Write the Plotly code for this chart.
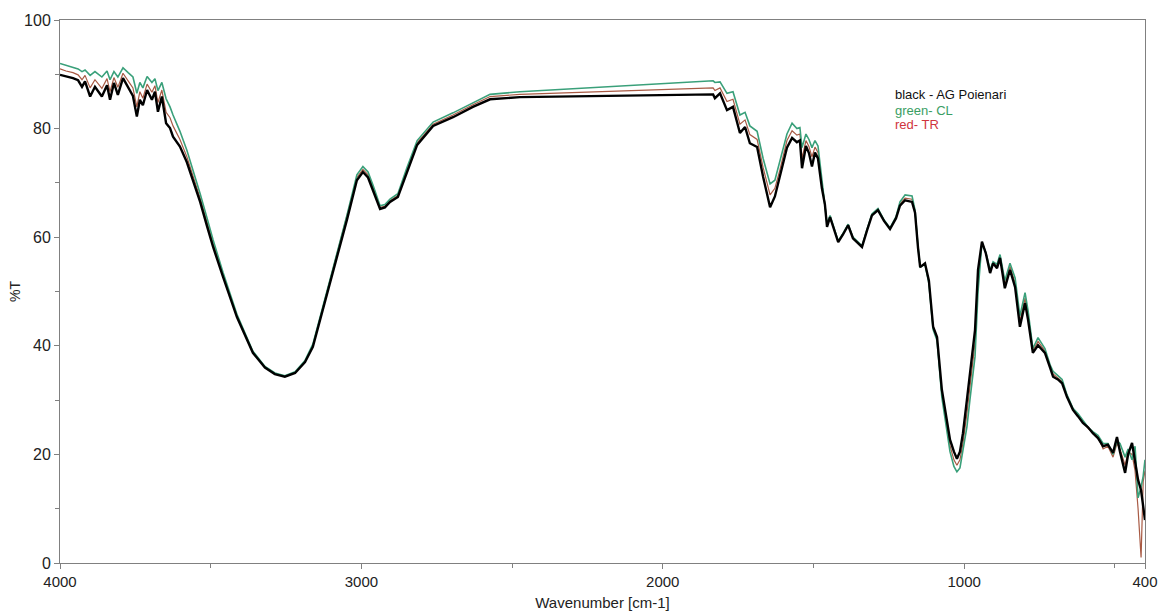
import plotly.graph_objects as go

wavenumber = [4000, 3980, 3957, 3940, 3927, 3917, 3900, 3884, 3861, 3844, 3834, 3821, 3808, 3791, 3774, 3758,
              3745, 3735, 3725, 3711, 3695, 3685, 3675, 3662, 3648, 3635, 3625, 3602, 3579, 3559, 3535, 3512,
              3492, 3459, 3413, 3360, 3320, 3287, 3254, 3220, 3187, 3161, 3137, 3094, 3048, 3015, 2995, 2978,
              2961, 2938, 2922, 2905, 2879, 2849, 2815, 2762, 2696, 2630, 2573, 2474, 1833, 1827, 1810, 1787,
              1767, 1744, 1727, 1711, 1687, 1667, 1644, 1628, 1611, 1588, 1571, 1555, 1545, 1538, 1525, 1515,
              1505, 1495, 1485, 1472, 1462, 1455, 1445, 1418, 1402, 1385, 1369, 1339, 1322, 1306, 1286, 1266,
              1246, 1226, 1213, 1196, 1173, 1163, 1153, 1146, 1130, 1117, 1103, 1090, 1074, 1047, 1034, 1024,
              1014, 1004, 991, 981, 964, 954, 941, 928, 914, 904, 891, 881, 865, 848, 831, 815,
              798, 788, 772, 755, 732, 715, 705, 689, 675, 659, 639, 622, 606, 589, 573, 556,
              539, 523, 506, 493, 483, 466, 456, 443, 433, 423, 413, 406, 400]

black_ag_poienari = [89.9, 89.6, 89.3, 88.9, 87.7, 88.7, 85.9, 87.7, 85.9, 88.0, 85.3, 88.4, 86.2, 89.3, 87.7, 86.0,
                     82.2, 85.3, 84.3, 87.1, 85.3, 86.8, 83.1, 85.9, 81.0, 80.1, 78.5, 76.7, 73.8, 70.5, 66.5, 62.0,
                     58.2, 52.7, 45.3, 38.7, 36.0, 34.8, 34.3, 35.0, 37.0, 39.8, 44.8, 53.4, 63.2, 70.5, 72.0, 71.0,
                     68.5, 65.2, 65.5, 66.5, 67.4, 72.0, 77.0, 80.5, 82.1, 84.0, 85.4, 85.8, 86.3, 85.6, 86.5, 83.4,
                     84.0, 79.2, 80.3, 77.3, 76.6, 71.1, 65.5, 67.5, 71.1, 76.5, 78.3, 77.5, 77.8, 72.7, 76.8, 75.5,
                     73.0, 75.6, 74.5, 69.0, 66.0, 61.9, 63.7, 59.1, 60.5, 62.2, 59.8, 58.2, 61.3, 64.0, 65.0, 63.0,
                     61.5, 63.5, 65.8, 66.8, 66.5, 64.5, 58.0, 54.5, 55.2, 52.0, 43.5, 41.6, 31.9, 22.7, 20.5, 19.2,
                     20.5, 23.9, 30.0, 35.0, 42.9, 54.0, 59.2, 57.0, 53.4, 55.2, 54.3, 56.2, 50.6, 54.0, 50.8, 43.5,
                     47.9, 44.8, 38.7, 40.1, 38.7, 36.0, 34.3, 33.8, 33.1, 30.6, 28.2, 27.0, 25.8, 25.0, 23.9, 23.0,
                     21.5, 21.8, 20.3, 23.2, 20.5, 16.6, 20.0, 22.1, 18.4, 15.3, 13.4, 10.0, 7.9]

green_cl = [92.0, 91.7, 91.3, 91.0, 90.5, 90.8, 89.8, 90.5, 89.5, 90.6, 89.0, 90.5, 89.5, 91.2, 90.3, 89.5,
            86.5, 88.5, 87.5, 89.6, 88.5, 89.2, 87.0, 88.5, 85.5, 84.0, 82.5, 79.5, 76.0, 72.5, 68.0, 63.5,
            59.5, 53.5, 45.8, 39.0, 36.2, 35.0, 34.5, 35.2, 37.3, 40.3, 45.5, 54.3, 64.0, 71.5, 73.0, 72.0,
            69.5, 65.8, 66.0, 67.0, 68.0, 72.8, 77.8, 81.2, 82.9, 84.8, 86.3, 86.8, 88.8, 88.5, 88.6, 86.5,
            86.8, 82.5, 83.0, 80.5, 79.5, 74.5, 69.8, 70.5, 74.0, 79.0, 81.0, 80.0, 80.2, 76.5, 79.0, 78.0,
            76.5, 77.8, 76.8, 70.5, 66.5, 62.5, 64.0, 59.3, 60.7, 62.4, 60.0, 58.4, 61.5, 64.3, 65.3, 63.2,
            61.7, 63.8, 66.5, 67.8, 67.6, 65.0, 58.2, 54.5, 55.0, 51.5, 43.0, 41.0, 30.5, 20.5, 17.8, 16.8,
            17.5, 20.5, 25.0, 30.0, 38.0, 50.0, 59.0, 57.2, 54.0, 55.5, 55.0, 56.8, 52.0, 55.2, 52.5, 45.5,
            49.8, 46.5, 39.5, 41.5, 39.5, 36.5, 35.3, 34.5, 33.8, 31.0, 28.5, 27.5, 26.2, 25.0, 24.2, 23.5,
            22.0, 22.0, 20.0, 22.5, 22.0, 19.5, 21.0, 19.0, 21.5, 12.0, 14.0, 16.0, 19.0]

red_tr = [91.0, 90.6, 90.3, 89.9, 89.0, 89.8, 87.5, 89.0, 87.4, 89.2, 86.8, 89.4, 87.6, 90.2, 88.8, 87.5,
          84.0, 86.8, 85.6, 88.2, 86.7, 87.9, 84.8, 87.1, 83.0, 82.0, 80.5, 78.0, 74.8, 71.4, 67.2, 62.7,
          58.8, 53.1, 45.5, 38.8, 36.1, 34.9, 34.4, 35.1, 37.1, 40.0, 45.1, 53.8, 63.6, 71.0, 72.5, 71.5,
          69.0, 65.5, 65.7, 66.7, 67.7, 72.4, 77.4, 80.8, 82.5, 84.4, 85.9, 86.3, 87.5, 87.0, 87.5, 85.0,
          85.4, 80.8, 81.6, 78.9, 78.0, 72.8, 67.8, 69.0, 72.5, 77.8, 79.6, 78.8, 79.0, 74.5, 77.8, 76.7,
          74.8, 76.6, 75.6, 69.7, 66.2, 62.2, 63.8, 59.2, 60.6, 62.3, 59.9, 58.3, 61.4, 64.1, 65.1, 63.1,
          61.6, 63.6, 66.1, 67.2, 67.0, 64.8, 58.1, 54.5, 55.1, 51.8, 43.2, 41.3, 31.2, 21.6, 19.0, 18.0,
          19.0, 22.0, 27.5, 32.5, 40.5, 52.0, 59.1, 57.1, 53.7, 55.3, 54.6, 56.5, 51.2, 54.6, 51.6, 44.5,
          48.8, 45.6, 39.1, 40.8, 39.1, 36.2, 34.8, 34.1, 33.4, 30.8, 28.3, 27.2, 26.0, 24.8, 24.0, 23.2,
          21.0, 21.5, 19.5, 22.0, 21.0, 18.0, 20.5, 20.0, 17.0, 10.0, 1.0, 15.0, 17.0]

x_ticks = [4000, 3000, 2000, 1000, 400]
x_minor = [3500, 2500, 1500, 500]
legend_lines = ["black - AG Poienari", "green- CL", "red- TR"]
legend_colors = ["#111111", "#3a9e63", "#d0343c"]

fig = go.Figure()
fig.add_trace(go.Scatter(x=wavenumber, y=red_tr, mode="lines", line=dict(color="#a85a44", width=1.2),
                         showlegend=False))
fig.add_trace(go.Scatter(x=wavenumber, y=green_cl, mode="lines", line=dict(color="#3aa07a", width=1.6),
                         showlegend=False))
fig.add_trace(go.Scatter(x=wavenumber, y=black_ag_poienari, mode="lines", line=dict(color="#000000", width=2.4),
                         showlegend=False))

ann_y = [86.2, 83.4, 80.7]
for txt, col, yy in zip(legend_lines, legend_colors, ann_y):
    fig.add_annotation(x=1235, y=yy, xref="x", yref="y", text=txt, showarrow=False,
                       xanchor="left", yanchor="middle", font=dict(color=col, size=13,
                                                                  family="Liberation Sans, Arial"))

fig.update_layout(
    width=1159, height=615,
    margin=dict(l=60, r=14, t=20, b=52),
    plot_bgcolor="white", paper_bgcolor="white",
    font=dict(family="Liberation Sans, Arial", size=15, color="#222222"),
)
fig.update_xaxes(range=[4000, 400], tickvals=x_ticks, ticktext=[str(v) for v in x_ticks],
                 automargin=False,
                 showline=True, linecolor="#808080", linewidth=1, mirror=True,
                 ticks="outside", ticklen=5, tickcolor="#808080", showgrid=False, zeroline=False,
                 tickfont=dict(family="Liberation Sans Narrow, Liberation Sans, Arial", size=15),
                 minor=dict(tickvals=x_minor, ticks="outside", ticklen=4, tickcolor="#808080", showgrid=False),
                 title=dict(text="Wavenumber [cm-1]", standoff=8,
                            font=dict(family="Liberation Sans Narrow, Liberation Sans, Arial", size=15)))
fig.update_yaxes(range=[0, 100], dtick=20, tick0=0, automargin=False,
                 showline=True, linecolor="#808080", linewidth=1, mirror=True,
                 ticks="outside", ticklen=5, tickcolor="#808080", showgrid=False, zeroline=False,
                 tickfont=dict(size=16),
                 minor=dict(dtick=10, ticks="outside", ticklen=4, tickcolor="#808080", showgrid=False),
                 title=dict(text="%T", standoff=0, font=dict(size=14)))

fig.write_html("out.html")
